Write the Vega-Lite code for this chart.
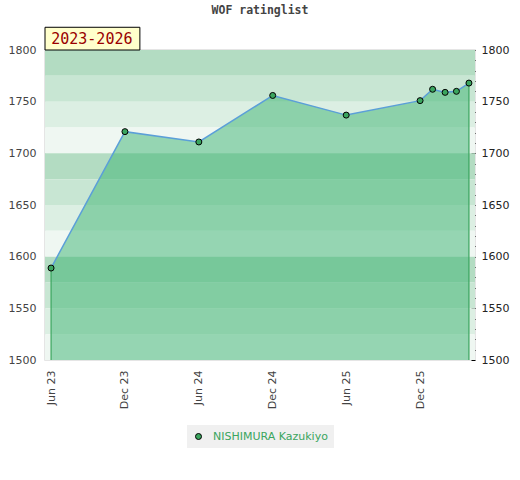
{
  "$schema": "https://vega.github.io/schema/vega-lite/v6.json",
  "width": 430,
  "height": 310,
  "autosize": {"type": "none"},
  "padding": {"left": 45, "top": 50, "right": 45, "bottom": 120},
  "title": {
    "text": "WOF ratinglist",
    "font": "DejaVu Sans Mono",
    "fontSize": 11.5,
    "fontWeight": "bold",
    "color": "#444444",
    "frame": "group",
    "offset": 10
  },
  "datasets": {
    "ratings": [
      {"date": "2023-06-01", "rating": 1589, "player": "NISHIMURA Kazukiyo"},
      {"date": "2023-12-01", "rating": 1721, "player": "NISHIMURA Kazukiyo"},
      {"date": "2024-06-01", "rating": 1711, "player": "NISHIMURA Kazukiyo"},
      {"date": "2024-12-01", "rating": 1756, "player": "NISHIMURA Kazukiyo"},
      {"date": "2025-06-01", "rating": 1737, "player": "NISHIMURA Kazukiyo"},
      {"date": "2025-12-01", "rating": 1751, "player": "NISHIMURA Kazukiyo"},
      {"date": "2026-01-01", "rating": 1762, "player": "NISHIMURA Kazukiyo"},
      {"date": "2026-02-01", "rating": 1759, "player": "NISHIMURA Kazukiyo"},
      {"date": "2026-03-01", "rating": 1760, "player": "NISHIMURA Kazukiyo"},
      {"date": "2026-04-01", "rating": 1768, "player": "NISHIMURA Kazukiyo"}
    ],
    "bands": [
      {"lo": 1775, "hi": 1800, "shade": "a"},
      {"lo": 1750, "hi": 1775, "shade": "b"},
      {"lo": 1725, "hi": 1750, "shade": "c"},
      {"lo": 1700, "hi": 1725, "shade": "d"},
      {"lo": 1675, "hi": 1700, "shade": "a"},
      {"lo": 1650, "hi": 1675, "shade": "b"},
      {"lo": 1625, "hi": 1650, "shade": "c"},
      {"lo": 1600, "hi": 1625, "shade": "d"},
      {"lo": 1575, "hi": 1600, "shade": "a"},
      {"lo": 1550, "hi": 1575, "shade": "b"},
      {"lo": 1525, "hi": 1550, "shade": "c"},
      {"lo": 1500, "hi": 1525, "shade": "d"}
    ]
  },
  "layer": [
    {
      "data": {"name": "bands"},
      "mark": {"type": "rect"},
      "encoding": {
        "y": {
          "field": "lo",
          "type": "quantitative",
          "title": null,
          "scale": {"domain": [1500, 1800], "nice": false, "zero": false},
          "axis": {"orient": "left", "values": [1500, 1550, 1600, 1650, 1700, 1750, 1800], "format": "d"}
        },
        "y2": {"field": "hi"},
        "fill": {
          "field": "shade",
          "type": "nominal",
          "scale": {"domain": ["a", "b", "c", "d"], "range": ["#b3dcc2", "#c8e6d3", "#dcefe3", "#eff7f2"]},
          "legend": null
        }
      }
    },
    {
      "data": {"name": "ratings"},
      "mark": {"type": "area", "color": "#3cb371", "opacity": 0.5},
      "encoding": {
        "x": {
          "field": "date",
          "type": "temporal",
          "title": null,
          "scale": {
            "type": "utc",
            "domain": [
              {"year": 2023, "month": 5, "date": 17, "utc": true},
              {"year": 2026, "month": 4, "date": 16, "utc": true}
            ]
          },
          "axis": {
            "values": [
              {"year": 2023, "month": 6, "date": 1, "utc": true},
              {"year": 2023, "month": 12, "date": 1, "utc": true},
              {"year": 2024, "month": 6, "date": 1, "utc": true},
              {"year": 2024, "month": 12, "date": 1, "utc": true},
              {"year": 2025, "month": 6, "date": 1, "utc": true},
              {"year": 2025, "month": 12, "date": 1, "utc": true}
            ],
            "format": "%b %y"
          }
        },
        "y": {"field": "rating", "type": "quantitative", "axis": null},
        "y2": {"datum": 1500}
      }
    },
    {
      "data": {"name": "ratings"},
      "transform": [
        {"window": [{"op": "row_number", "as": "rn"}]},
        {"joinaggregate": [{"op": "count", "as": "n"}]},
        {"filter": "datum.rn === 1 || datum.rn === datum.n"}
      ],
      "mark": {"type": "rule", "color": "#3aa55e", "strokeWidth": 1.2},
      "encoding": {
        "x": {"field": "date", "type": "temporal", "title": null},
        "y": {"field": "rating", "type": "quantitative", "axis": null},
        "y2": {"datum": 1500}
      }
    },
    {
      "data": {"name": "ratings"},
      "mark": {"type": "line", "color": "#5b9fd8", "strokeWidth": 1.5},
      "encoding": {
        "x": {"field": "date", "type": "temporal", "title": null},
        "y": {"field": "rating", "type": "quantitative", "axis": null}
      }
    },
    {
      "data": {"name": "ratings"},
      "mark": {"type": "circle", "size": 36, "opacity": 1, "stroke": "#000000", "strokeWidth": 1},
      "encoding": {
        "x": {"field": "date", "type": "temporal", "title": null},
        "y": {
          "field": "rating",
          "type": "quantitative",
          "title": null,
          "axis": {
            "orient": "right",
            "values": [1500, 1510, 1520, 1530, 1540, 1550, 1560, 1570, 1580, 1590, 1600, 1610, 1620, 1630, 1640, 1650, 1660, 1670, 1680, 1690, 1700, 1710, 1720, 1730, 1740, 1750, 1760, 1770, 1780, 1790, 1800],
            "format": "d",
            "labelExpr": "datum.value % 50 === 0 ? datum.label : ''"
          }
        },
        "color": {
          "field": "player",
          "type": "nominal",
          "scale": {"range": ["#3aa55e"]},
          "legend": {
            "orient": "none",
            "legendX": 142,
            "legendY": 375,
            "title": null,
            "fillColor": "#f0f0f0",
            "padding": 6,
            "labelColor": "#3aa55e",
            "labelFontSize": 11,
            "labelFont": "DejaVu Sans",
            "labelOffset": 9,
            "symbolType": "circle",
            "symbolSize": 36,
            "symbolStrokeColor": "#000000",
            "symbolStrokeWidth": 1,
            "symbolOpacity": 1
          }
        }
      }
    },
    {
      "data": {"values": [{}]},
      "mark": {"type": "rect", "fill": "#ffffcc", "stroke": "#000000", "strokeWidth": 1},
      "encoding": {
        "x": {"datum": {"year": 2023, "month": 5, "date": 17, "utc": true}, "type": "temporal", "title": null},
        "x2": {"datum": {"year": 2024, "month": 1, "date": 7, "utc": true}},
        "y": {"datum": 1800, "type": "quantitative", "axis": null},
        "y2": {"datum": 1822}
      }
    },
    {
      "data": {"values": [{}]},
      "mark": {"type": "text", "text": "2023-2026", "font": "DejaVu Sans Mono", "fontSize": 15, "color": "#990000", "align": "center", "baseline": "middle"},
      "encoding": {
        "x": {"datum": {"year": 2023, "month": 9, "date": 10, "utc": true}, "type": "temporal", "title": null},
        "y": {"datum": 1810.5, "type": "quantitative", "axis": null}
      }
    }
  ],
  "resolve": {"axis": {"y": "independent"}},
  "config": {
    "font": "DejaVu Sans",
    "view": {"stroke": "#dddddd", "strokeWidth": 1.5},
    "axis": {"grid": false, "domain": false, "labelFontSize": 11, "labelFont": "DejaVu Sans"},
    "axisX": {"ticks": false, "labelAngle": -90, "labelAlign": "right", "labelBaseline": "middle", "labelPadding": 10, "labelColor": "#444444"},
    "axisLeft": {"ticks": false, "labelPadding": 9, "labelColor": "#444444"},
    "axisRight": {"ticks": true, "tickSize": 4, "offset": -4, "tickColor": "#000000", "tickWidth": 1, "labelPadding": 6, "labelColor": "#222222"}
  }
}
